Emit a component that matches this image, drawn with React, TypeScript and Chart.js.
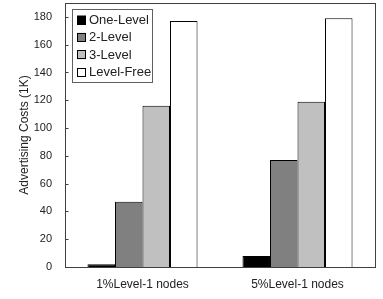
import React, { useEffect, useRef } from "react";
import { Chart, registerables } from "chart.js";

Chart.register(...registerables);

const categories = ["1%Level-1 nodes", "5%Level-1 nodes"];
const seriesNames = ["One-Level", "2-Level", "3-Level", "Level-Free"];
const oneLevel = [2, 8];
const twoLevel = [47, 77];
const threeLevel = [116, 119];
const levelFree = [177, 179];
const seriesColors = ["#000000", "#808080", "#c0c0c0", "#ffffff"];
const yTitle = "Advertising Costs (1K)";

const FONT = "'Liberation Sans', Arial, sans-serif";

const framePlugin = {
  id: "frameLegend",
  afterDraw(chart: any) {
    const { ctx, chartArea } = chart;
    ctx.save();
    ctx.strokeStyle = "#404040";
    ctx.lineWidth = 1;
    const l = Math.round(chartArea.left) + 0.5;
    ctx.strokeRect(
      l,
      Math.round(chartArea.top) + 0.5,
      Math.round(chartArea.right - chartArea.left),
      Math.round(chartArea.bottom - chartArea.top)
    );
    // inward y tick marks
    const ys = chart.scales.y;
    ys.ticks.forEach((t: any) => {
      const py = Math.round(ys.getPixelForValue(t.value)) + 0.5;
      ctx.beginPath();
      ctx.moveTo(l, py);
      ctx.lineTo(l + 3, py);
      ctx.stroke();
    });
    // legend box
    const bx = chartArea.left + 7;
    const by = chartArea.top + 6;
    const bw = 80;
    const bh = 73;
    ctx.fillStyle = "#ffffff";
    ctx.fillRect(bx, by, bw, bh);
    ctx.strokeStyle = "#606060";
    ctx.strokeRect(Math.round(bx) + 0.5, Math.round(by) + 0.5, bw, bh);
    ctx.font = `13px ${FONT}`;
    ctx.textBaseline = "middle";
    chart.data.datasets.forEach((ds: any, i: number) => {
      const cy = by + 11 + i * 17.4;
      ctx.fillStyle = ds.backgroundColor;
      ctx.fillRect(bx + 5, cy - 4.5, 9, 9);
      ctx.strokeStyle = "#000";
      ctx.strokeRect(Math.round(bx + 5) + 0.5, Math.round(cy - 4.5) + 0.5, 8, 8);
      ctx.fillStyle = "#222";
      ctx.fillText(ds.label, bx + 17, cy + 0.5);
    });
    ctx.restore();
  },
};

export default function App() {
  const ref = useRef<HTMLCanvasElement>(null);
  useEffect(() => {
    document.body.style.margin = "0";
    const values = [oneLevel, twoLevel, threeLevel, levelFree];
    const chart = new Chart(ref.current!, {
      type: "bar",
      data: {
        labels: categories,
        datasets: seriesNames.map((name, i) => ({
          label: name,
          data: values[i],
          backgroundColor: seriesColors[i],
          borderColor: "#000000",
          borderWidth: 1,
          categoryPercentage: 0.71,
          barPercentage: 1,
        })),
      },
      options: {
        responsive: false,
        animation: false,
        layout: { autoPadding: false, padding: { top: 3, right: 8, left: 0, bottom: 0 } },
        plugins: { legend: { display: false }, tooltip: { enabled: false } },
        scales: {
          x: {
            grid: { display: false },
            border: { display: false },
            ticks: { color: "#222", font: { family: FONT, size: 12 }, padding: 2 },
            afterFit: (s: any) => {
              s.height = 32;
              s.paddingLeft = 0;
              s.paddingRight = 0;
            },
          },
          y: {
            min: 0,
            max: 190,
            grid: { display: false },
            border: { display: false },
            ticks: {
              stepSize: 20,
              includeBounds: false,
              color: "#222",
              font: { family: FONT, size: 11 },
              padding: 5,
            },
            title: {
              display: true,
              text: yTitle,
              color: "#222",
              font: { family: FONT, size: 12 },
              padding: { top: 17, bottom: 0 },
            },
            afterFit: (s: any) => {
              s.width = 65;
              s.paddingTop = 0;
              s.paddingBottom = 0;
            },
          },
        },
      },
      plugins: [framePlugin],
    });
    return () => chart.destroy();
  }, []);
  return <canvas ref={ref} width={383} height={299} style={{ display: "block" }} />;
}
